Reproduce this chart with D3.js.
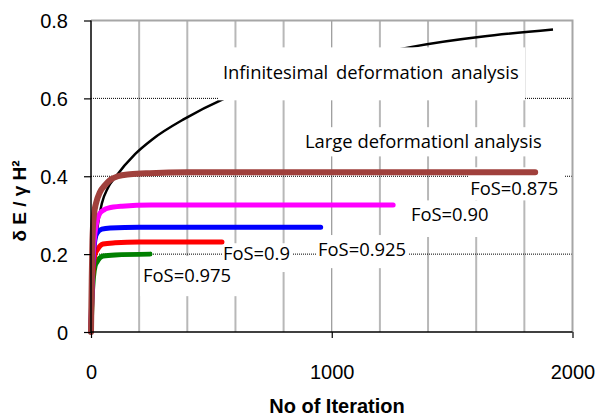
<!DOCTYPE html>
<html>
<head>
<meta charset="utf-8">
<script src="https://cdn.jsdelivr.net/npm/d3@7/dist/d3.min.js"></script>
<style>
  body { margin: 0; background: #fff; }
  svg { display: block; }
</style>
</head>
<body>
<div id="chart-area"></div>
<script>
// values (iteration, delta E / gamma H^2)
var infIter = [0, 5, 12, 25, 45, 70, 100, 183, 253, 390, 545, 800, 1050, 1321, 1919];
var infVal  = [0, 0.12, 0.19, 0.26, 0.33, 0.37, 0.397, 0.457, 0.494, 0.548, 0.597, 0.65, 0.695, 0.731, 0.777];

var fos875Iter = [0, 3, 6, 12, 21, 37, 58, 79, 112, 162, 245, 400, 1845];
var fos875Val  = [0, 0.13, 0.236, 0.3, 0.331, 0.359, 0.377, 0.39, 0.4, 0.405, 0.408, 0.41, 0.41];

var fos90Iter = [0, 4, 10, 17, 25, 37, 55, 71, 129, 250, 1255];
var fos90Val  = [0, 0.12, 0.21, 0.256, 0.285, 0.305, 0.314, 0.318, 0.323, 0.326, 0.326];

var fos925Iter = [0, 4, 10, 17, 25, 45, 80, 200, 954];
var fos925Val  = [0, 0.12, 0.2, 0.24, 0.254, 0.264, 0.267, 0.269, 0.269];

var fos09Iter = [0, 4, 10, 17, 25, 50, 100, 200, 544];
var fos09Val  = [0, 0.1, 0.17, 0.2, 0.21, 0.226, 0.229, 0.231, 0.231];

var fos975Iter = [0, 4, 10, 17, 25, 50, 100, 245];
var fos975Val  = [0, 0.08, 0.14, 0.17, 0.18, 0.195, 0.198, 0.2];

var xTicks = [0, 1000, 2000];
var yTicks = [0, 0.2, 0.4, 0.6, 0.8];
var xMinor = [200, 400, 600, 800, 1200, 1400, 1600, 1800];

var W = 597, H = 416;
var svg = d3.select("#chart-area")
    .append("svg")
    .attr("width", W)
    .attr("height", H);

var x = d3.scaleLinear().domain([0, 2000]).range([91, 572.5]);
var y = d3.scaleLinear().domain([0, 0.8]).range([332, 20.5]);

function pts(a, b) { return a.map(function(d, i) { return [d, b[i]]; }); }

// coloured series, drawn in this order (brown last so it sits on top)
var series = [
    {name: "FoS=0.975", data: pts(fos975Iter, fos975Val), color: "#008000", w: 5},
    {name: "FoS=0.9",   data: pts(fos09Iter, fos09Val),   color: "#ff0000", w: 5},
    {name: "FoS=0.925", data: pts(fos925Iter, fos925Val), color: "#0000ff", w: 5},
    {name: "FoS=0.90",  data: pts(fos90Iter, fos90Val),   color: "#ff00ff", w: 5},
    {name: "FoS=0.875", data: pts(fos875Iter, fos875Val), color: "#a0403c", w: 6}
];

// text boxes: [iter0, iter1, val0, val1], text anchor in data units
var labelBoxes = [
    {text: "FoS=0.875", tx: 1575, ty: 0.351, box: [1566, 1969, 0.423, 0.338]},
    {text: "FoS=0.90",  tx: 1329, ty: 0.285, box: [1305, 1678, 0.338, 0.244]},
    {text: "FoS=0.925", tx: 943,  ty: 0.195, box: [935, 1321, 0.249, 0.164]},
    {text: "FoS=0.9",   tx: 548,  ty: 0.185, box: [544, 835, 0.228, 0.154]},
    {text: "FoS=0.975", tx: 216,  ty: 0.128, box: [204, 607, 0.195, 0.092]},
    {text: "Large deformationl analysis", tx: 889, ty: 0.472, box: [868, 1899, 0.526, 0.451]}
];
var infBox = {text: "Infinitesimal deformation analysis", tx: 548, ty: 0.651, box: [528, 1803, 0.731, 0.595], ws: 3};

var labelFont = "'Open Sans', Lato, sans-serif";

// minor vertical gridlines (grey)
svg.append("g").selectAll("line")
    .data(xMinor)
    .enter().append("line")
    .attr("x1", d => x(d)).attr("x2", d => x(d))
    .attr("y1", y(0.8)).attr("y2", y(0))
    .attr("stroke", "#b8b8b8")
    .attr("stroke-width", 2);

// major dotted gridlines
svg.append("g").selectAll("line")
    .data([0.2, 0.4, 0.6])
    .enter().append("line")
    .attr("x1", x(0)).attr("x2", x(2000))
    .attr("y1", d => y(d)).attr("y2", d => y(d))
    .attr("stroke", "#000")
    .attr("stroke-width", 1)
    .attr("stroke-dasharray", "1,1");
svg.append("line")
    .attr("x1", x(1000)).attr("x2", x(1000))
    .attr("y1", y(0.8)).attr("y2", y(0))
    .attr("stroke", "#000")
    .attr("stroke-width", 1)
    .attr("stroke-dasharray", "1,1");

// plot border top / right
svg.append("path")
    .attr("d", "M" + x(0) + "," + y(0.8) + "H" + x(2000) + "V" + y(0))
    .attr("fill", "none")
    .attr("stroke", "#a6a6a6")
    .attr("stroke-width", 2);

function drawBox(g, d) {
    g.append("rect")
        .attr("x", x(d.box[0]))
        .attr("y", y(d.box[2]))
        .attr("width", x(d.box[1]) - x(d.box[0]))
        .attr("height", y(d.box[3]) - y(d.box[2]))
        .attr("fill", "#fff");
}
function drawText(g, d) {
    g.append("text")
        .attr("x", x(d.tx))
        .attr("y", y(d.ty))
        .attr("font-family", labelFont)
        .attr("font-size", 18.4)
        .attr("word-spacing", d.ws || 0)
        .attr("fill", "#000")
        .text(d.text);
}

var boxLayer = svg.append("g");
labelBoxes.forEach(function(d) { drawBox(boxLayer, d); });

var line = d3.line()
    .x(d => x(d[0]))
    .y(d => y(d[1]))
    .curve(d3.curveMonotoneX);

// infinitesimal curve (black), partly hidden behind its text box
svg.append("path")
    .attr("d", line(pts(infIter, infVal)))
    .attr("fill", "none")
    .attr("stroke", "#000")
    .attr("stroke-width", 2.5);

var infLayer = svg.append("g");
drawBox(infLayer, infBox);
drawText(infLayer, infBox);

svg.append("g").selectAll("path")
    .data(series)
    .enter().append("path")
    .attr("d", d => line(d.data))
    .attr("fill", "none")
    .attr("stroke", d => d.color)
    .attr("stroke-width", d => d.w)
    .attr("stroke-linecap", "round")
    .attr("stroke-linejoin", "round");

var textLayer = svg.append("g");
labelBoxes.forEach(function(d) { drawText(textLayer, d); });

// axes
var yAxis = d3.axisLeft(y).tickValues(yTicks).tickSize(7).tickFormat(d => d === 0 ? "0" : d3.format(".1f")(d));
var xAxis = d3.axisBottom(x).tickValues(xTicks).tickSize(6).tickFormat(d3.format("d"));

var gy = svg.append("g")
    .attr("transform", "translate(" + x(0) + ",0)")
    .call(yAxis);
var gx = svg.append("g")
    .attr("transform", "translate(0," + y(0) + ")")
    .call(xAxis);

[gx, gy].forEach(function(g) {
    g.select(".domain").attr("stroke", "#000").attr("stroke-width", 1.5);
    g.selectAll(".tick line").attr("stroke", "#000").attr("stroke-width", 1.2);
    g.selectAll("text")
        .attr("font-family", "'Liberation Sans', Arial, sans-serif")
        .attr("font-size", 20)
        .attr("fill", "#000");
});
gy.select(".domain").attr("d", "M0," + y(0.8) + "V" + y(0));
gx.select(".domain").attr("d", "M" + x(0) + ",0H" + x(2000));
gy.selectAll(".tick text").attr("x", -23).attr("dy", "0.36em");
gx.selectAll(".tick text").attr("y", 33).attr("dy", "0.71em");

// axis titles
svg.append("text")
    .attr("x", 337)
    .attr("y", 413)
    .attr("text-anchor", "middle")
    .attr("font-family", "'Liberation Sans', Arial, sans-serif")
    .attr("font-weight", "bold")
    .attr("font-size", 20)
    .text("No of Iteration");

svg.append("text")
    .attr("transform", "translate(26,201) rotate(-90)")
    .attr("text-anchor", "middle")
    .attr("font-family", "'Liberation Sans', Arial, sans-serif")
    .attr("font-weight", "bold")
    .attr("font-size", 19)
    .text("δ E / γ H²");
</script>
</body>
</html>
